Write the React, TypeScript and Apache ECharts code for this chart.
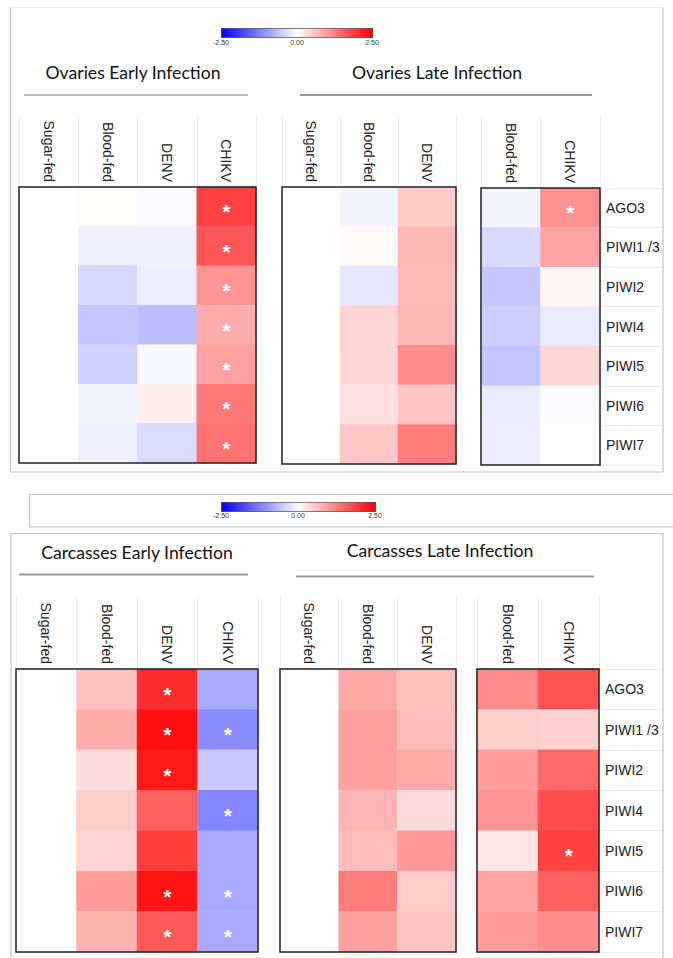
import React, { useEffect, useRef } from "react";
import * as echarts from "echarts";

// ---------- data ----------
const genes = ["AGO3", "PIWI1 /3", "PIWI2", "PIWI4", "PIWI5", "PIWI6", "PIWI7"];
const colsEarly = ["Sugar-fed", "Blood-fed", "DENV", "CHIKV"];
const colsLateA = ["Sugar-fed", "Blood-fed", "DENV"];
const colsLateB = ["Blood-fed", "CHIKV"];
const scaleTicks = ["-2.50", "0.00", "2.50"];

// Ovaries early infection (values per gene, top to bottom)
const ovEarlySugarFed = [0, 0, 0, 0, 0, 0, 0];
const ovEarlyBloodFed = [0.03, -0.17, -0.39, -0.55, -0.45, -0.11, -0.16];
const ovEarlyDENV = [-0.05, -0.15, -0.18, -0.63, -0.07, 0.17, -0.35];
const ovEarlyCHIKV = [1.86, 1.65, 1.05, 0.8, 0.92, 1.32, 1.38];
const ovEarlyCHIKVSig = [1, 1, 1, 1, 1, 1, 1];

// Ovaries late infection
const ovLateSugarFed = [0, 0, 0, 0, 0, 0, 0];
const ovLateBloodFed = [-0.11, 0.06, -0.25, 0.42, 0.4, 0.3, 0.55];
const ovLateDENV = [0.52, 0.7, 0.68, 0.72, 1.12, 0.58, 1.28];
const ovLateBBloodFed = [-0.12, -0.37, -0.55, -0.5, -0.58, -0.2, -0.18];
const ovLateBCHIKV = [1.08, 0.9, 0.1, -0.22, 0.4, -0.03, 0];
const ovLateBCHIKVSig = [1, 0, 0, 0, 0, 0, 0];

// Carcasses early infection
const caEarlySugarFed = [0, 0, 0, 0, 0, 0, 0];
const caEarlyBloodFed = [0.6, 0.8, 0.32, 0.5, 0.42, 0.97, 0.75];
const caEarlyDENV = [2.05, 2.35, 2.25, 1.55, 1.9, 2.3, 1.62];
const caEarlyDENVSig = [1, 1, 1, 0, 0, 1, 1];
const caEarlyCHIKV = [-0.83, -1.13, -0.53, -1.2, -0.85, -0.85, -0.85];
const caEarlyCHIKVSig = [0, 1, 0, 1, 0, 1, 1];

// Carcasses late infection
const caLateSugarFed = [0, 0, 0, 0, 0, 0, 0];
const caLateBloodFed = [0.85, 0.93, 0.93, 0.73, 0.65, 1.28, 0.93];
const caLateDENV = [0.62, 0.65, 0.83, 0.35, 1.0, 0.5, 0.58];
const caLateBBloodFed = [1.13, 0.5, 0.97, 1.05, 0.25, 0.9, 0.97];
const caLateBCHIKV = [1.7, 0.45, 1.45, 1.75, 1.85, 1.55, 1.12];
const caLateBCHIKVSig = [0, 0, 0, 0, 1, 0, 0];

const none = [0, 0, 0, 0, 0, 0, 0];

// ---------- layout ----------
const panels = [
  { box: [19, 187, 237, 276], cols: colsEarly, vals: [ovEarlySugarFed, ovEarlyBloodFed, ovEarlyDENV, ovEarlyCHIKV], sig: [none, none, none, ovEarlyCHIKVSig], right: false },
  { box: [282, 187, 174, 277], cols: colsLateA, vals: [ovLateSugarFed, ovLateBloodFed, ovLateDENV], sig: [none, none, none], right: false },
  { box: [481, 188, 119, 277], cols: colsLateB, vals: [ovLateBBloodFed, ovLateBCHIKV], sig: [none, ovLateBCHIKVSig], right: true },
  { box: [16, 669, 242, 283], cols: colsEarly, vals: [caEarlySugarFed, caEarlyBloodFed, caEarlyDENV, caEarlyCHIKV], sig: [none, none, caEarlyDENVSig, caEarlyCHIKVSig], right: false },
  { box: [280, 669, 176, 283], cols: colsLateA, vals: [caLateSugarFed, caLateBloodFed, caLateDENV], sig: [none, none, none], right: false },
  { box: [477, 669, 122, 283], cols: colsLateB, vals: [caLateBBloodFed, caLateBCHIKV], sig: [none, caLateBCHIKVSig], right: true },
];

const LABEL_FONT = "'Liberation Sans', Arial, sans-serif";
const TITLE_FONT = "Lato, 'Open Sans', sans-serif";

function buildOption() {
  const grid: any[] = [];
  const xAxis: any[] = [];
  const yAxis: any[] = [];
  const series: any[] = [];
  panels.forEach((p, i) => {
    grid.push({
      left: p.box[0], top: p.box[1], width: p.box[2], height: p.box[3],
      show: true, z: 5, borderColor: "#222", borderWidth: 1.5, backgroundColor: "rgba(0,0,0,0)",
    });
    xAxis.push({
      type: "category", gridIndex: i, data: p.cols, position: "top",
      axisLine: { show: false },
      axisTick: { show: true, length: 72, lineStyle: { color: "#ececec" } },
      axisLabel: { rotate: 90, fontSize: 14, color: "#222", fontFamily: LABEL_FONT, margin: 5 },
      splitLine: { show: false },
    });
    yAxis.push({
      type: "category", gridIndex: i, data: genes, inverse: true, position: "right",
      axisLine: { show: false },
      axisTick: { show: p.right, length: 63, lineStyle: { color: "#ececec" } },
      axisLabel: { show: p.right, fontSize: 14, color: "#222", fontFamily: LABEL_FONT, margin: 6 },
      splitLine: { show: false },
    });
    const data: any[] = [];
    p.cols.forEach((_, c) => {
      genes.forEach((_, r) => {
        data.push([c, r, p.vals[c][r], p.sig[c][r]]);
      });
    });
    series.push({
      type: "heatmap", xAxisIndex: i, yAxisIndex: i, data,
      itemStyle: { borderWidth: 0 },
      emphasis: { disabled: true },
      label: {
        show: true,
        formatter: (q: any) => (q.data[3] ? "*" : ""),
        color: "#fff", fontSize: 21, fontWeight: "bold", fontFamily: LABEL_FONT, offset: [0, 5],
      },
    });
  });

  const vm = (left: number, top: number, len: number, idx: number[]) => ({
    type: "continuous", min: -2.5, max: 2.5, orient: "horizontal",
    left, top, itemWidth: 9, itemHeight: len, calculable: false,
    padding: 0, borderColor: "#333", borderWidth: 1, hoverLink: false,
    dimension: 2, seriesIndex: idx,
    inRange: { color: ["#0000ff", "#ffffff", "#ff0000"] },
  });

  const tickText = (x: number, y: number, t: string) => ({
    type: "text", x, y,
    style: { text: t, fill: "#333", font: `7px ${LABEL_FONT}`, textAlign: "center", textVerticalAlign: "middle" },
  });
  const title = (x: number, y: number, t: string) => ({
    type: "text", x, y,
    style: { text: t, fill: "#111", font: `17.6px ${TITLE_FONT}`, textAlign: "center", textVerticalAlign: "middle" },
  });
  const hline = (x1: number, x2: number, y: number, color: string, w: number) => ({
    type: "line", shape: { x1, y1: y, x2, y2: y }, style: { stroke: color, lineWidth: w },
  });
  const vline = (x: number, y1: number, y2: number, color: string, w: number) => ({
    type: "line", shape: { x1: x, y1, x2: x, y2 }, style: { stroke: color, lineWidth: w },
  });
  const frame = (x: number, y: number, w: number, h: number) => ({
    type: "rect", shape: { x, y, width: w, height: h }, style: { fill: "none", stroke: "#c4c4c4", lineWidth: 1.2 },
  });

  const graphic: any[] = [
    // top panel frame (faint top edge)
    hline(10.5, 663, 7.5, "#efefef", 1),
    vline(10.5, 7.5, 472, "#c4c4c4", 1.2),
    vline(663, 7.5, 472, "#c4c4c4", 1.2),
    hline(10.5, 663, 472, "#c4c4c4", 1.2),
    frame(29.5, 494.5, 660, 32.5),
    frame(11, 533.5, 652, 440),
    tickText(221, 42, scaleTicks[0]),
    tickText(297, 42, scaleTicks[1]),
    tickText(372, 42, scaleTicks[2]),
    tickText(221, 515.5, scaleTicks[0]),
    tickText(298, 515.5, scaleTicks[1]),
    tickText(375, 515.5, scaleTicks[2]),
    title(133, 72, "Ovaries Early Infection"),
    title(437, 72, "Ovaries Late Infection"),
    title(137, 552, "Carcasses Early Infection"),
    title(440, 550, "Carcasses Late Infection"),
    hline(24, 248, 95, "#777", 1.2),
    hline(300, 592, 95, "#999", 1.8),
    hline(19, 248, 574.5, "#999", 1.8),
    hline(296, 594, 576.5, "#999", 1.8),
  ];

  return {
    animation: false,
    backgroundColor: "#fff",
    grid, xAxis, yAxis, series,
    visualMap: [vm(221, 28, 151, [0, 1, 2]), vm(221, 502, 154, [3, 4, 5])],
    graphic,
  };
}

export default function App() {
  const ref = useRef<HTMLDivElement>(null);
  useEffect(() => {
    document.body.style.margin = "0";
    const chart = echarts.init(ref.current!, null, { renderer: "svg" });
    chart.setOption(buildOption() as any);
    return () => chart.dispose();
  }, []);
  return <div ref={ref} style={{ width: 673, height: 958 }} />;
}
